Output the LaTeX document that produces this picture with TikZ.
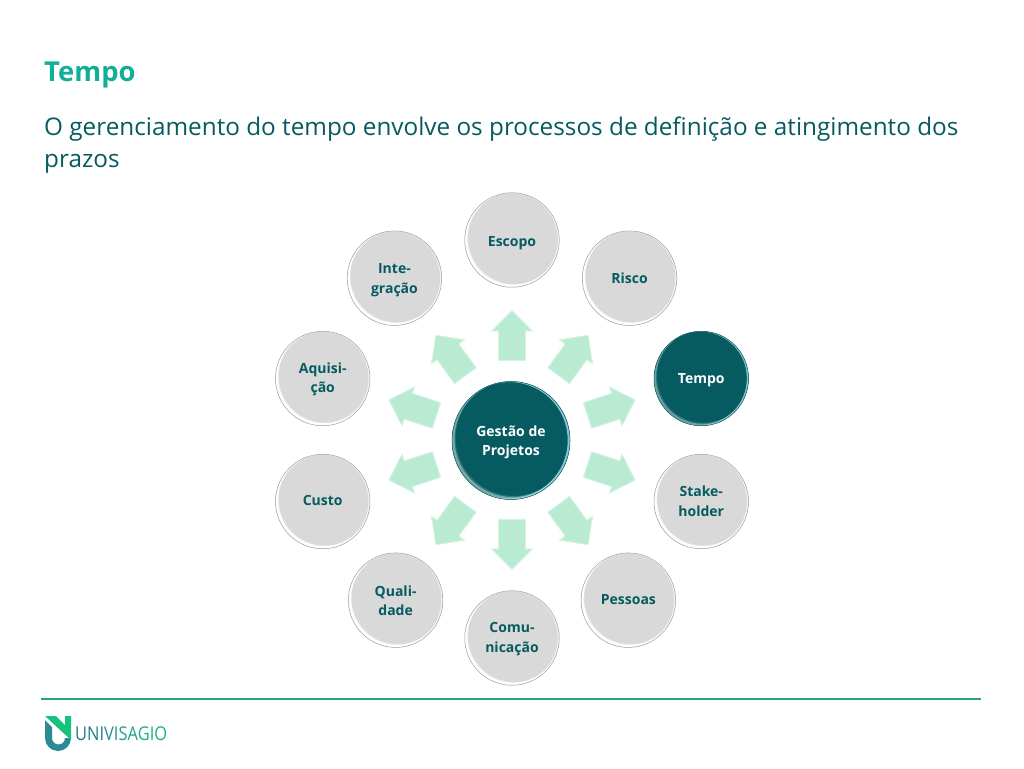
\documentclass[tikz,border=0pt]{standalone}
\usepackage{fontspec}
\setmainfont{Open Sans}
\usetikzlibrary{shapes.arrows,calc}
\definecolor{dark}{HTML}{055B60}
\definecolor{titlec}{HTML}{12AE98}
\definecolor{arrowc}{HTML}{B9EBD2}
\definecolor{arrowe}{HTML}{D6F3E4}
\definecolor{greyc}{HTML}{D9D9D9}
\definecolor{rulec}{HTML}{2E9E86}
\definecolor{logog}{HTML}{16C27E}
\definecolor{logot}{HTML}{2B8A96}
\newcommand\LL[2]{\raisebox{-#1pt}[\height][\depth]{#2}}
\tikzset{
  x=1pt,y=1pt,
  glassgrey/.style={circle,minimum size=94.5pt,inner sep=0pt,fill=greyc,draw=black!38,line width=.5pt,
    text=dark,align=center,font=\bfseries\fontsize{14}{19.5}\selectfont,
    path picture={
      \fill[white,opacity=.45,even odd rule] (path picture bounding box.center) circle (47.5pt)
        ($(path picture bounding box.center)+(2.4pt,2.4pt)$) circle (46.5pt);
      \fill[white,even odd rule] (path picture bounding box.center) circle (47.5pt)
        ($(path picture bounding box.center)+(1.3pt,1.3pt)$) circle (46pt);
      \fill[white,opacity=.7,even odd rule] (path picture bounding box.center) circle (47.5pt)
        ($(path picture bounding box.center)+(-.8pt,.3pt)$) circle (46.6pt);
    }},
  glassdark/.style={glassgrey,fill=dark,draw=dark,text=white,
    path picture={
      \fill[white!25!dark,opacity=.6,even odd rule] (path picture bounding box.center) circle (47.5pt)
        ($(path picture bounding box.center)+(2.2pt,2.2pt)$) circle (46.5pt);
      \fill[white!45!dark,opacity=.9,even odd rule] (path picture bounding box.center) circle (47.5pt)
        ($(path picture bounding box.center)+(1.2pt,1.2pt)$) circle (46.5pt);
      \fill[cyan!30!white,opacity=.75,even odd rule] (path picture bounding box.center) circle (47.5pt)
        ($(path picture bounding box.center)+(-1.2pt,.2pt)$) circle (46.8pt);
    }},
  glasscentre/.style={glassdark,minimum size=118pt,font=\bfseries\fontsize{14}{19.5}\selectfont,
    path picture={
      \fill[white!25!dark,opacity=.6,even odd rule] (path picture bounding box.center) circle (59pt)
        ($(path picture bounding box.center)+(2.6pt,2.6pt)$) circle (58pt);
      \fill[white!50!dark,opacity=.9,even odd rule] (path picture bounding box.center) circle (59pt)
        ($(path picture bounding box.center)+(1.5pt,1.5pt)$) circle (58pt);
      \fill[cyan!30!white,opacity=.75,even odd rule] (path picture bounding box.center) circle (59pt)
        ($(path picture bounding box.center)+(-1.5pt,.2pt)$) circle (58.2pt);
    }},
  blockarrow/.style={shape=single arrow,single arrow head extend=7pt,single arrow tip angle=90,
    minimum width=40pt,minimum height=50pt,inner xsep=0pt,inner ysep=13pt,anchor=tail,
    fill=arrowc,draw=arrowe,line width=.9pt},
  titletext/.style={anchor=base west,inner sep=0pt,text=titlec,font=\bfseries\fontsize{27.4}{30}\selectfont},
  subtext/.style={anchor=base west,inner sep=0pt,text=dark,font=\fontsize{24.3}{30}\selectfont},
  logotext/.style={anchor=base west,inner sep=0pt,font=\fontsize{19}{20}\selectfont},
}
\begin{document}
\begin{tikzpicture}
\useasboundingbox (0,0) rectangle (1024,768);
\fill[white] (0,0) rectangle (1024,768);
\node[titletext] (title) at (44,686) {Tempo};
\node[subtext] (sub1) at (44,632) {O gerenciamento do tempo envolve os processos de definição e atingimento dos};
\node[subtext] (sub2) at (44,600.5) {prazos};
\coordinate (o) at (512,328);
\node[glasscentre] (centre) at (511,327.5) {\LL{2}{Gestão de}\\\LL{2}{Projetos}};
\node[glassgrey] (n1) at ($(o)+(90:200)$) {\LL{3}{Escopo}};
\node[glassgrey] (n2) at ($(o)+(54:200)$) {Risco};
\node[glassdark] (n3) at ($(o)+(18:199)$) {\LL{2}{Tempo}};
\node[glassgrey] (n4) at ($(o)+(-18:199)$) {Stake-\\holder};
\node[glassgrey] (n5) at ($(o)+(-54:198)$) {\LL{-1}{Pessoas}};
\node[glassgrey] (n6) at ($(o)+(-90:198)$) {\LL{1}{Comu-}\\\LL{1}{nicação}};
\node[glassgrey] (n7) at ($(o)+(-126:198)$) {\LL{.5}{Quali-}\\\LL{.5}{dade}};
\node[glassgrey] (n8) at ($(o)+(-162:199)$) {\LL{-1}{Custo}};
\node[glassgrey] (n9) at ($(o)+(162:199)$) {\LL{1}{Aquisi-}\\\LL{1}{ção}};
\node[glassgrey] (n10) at ($(o)+(126:200)$) {\LL{2}{Inte-}\\\LL{2}{gração}};
\foreach \a/\m in {90/a1,54/a2,18/a3,-18/a4,-54/a5,-90/a6,-126/a7,-162/a8,162/a9,126/a10}
  \node[blockarrow,rotate=\a] (\m) at ($(o)+(\a:79)$) {};
\coordinate (ruleL) at (41,69);
\coordinate (ruleR) at (981,69);
\draw[rulec,line width=1.3pt] (ruleL) -- (ruleR);
% logo
\fill[logot] (45,48) -- (52,41) -- (52,30) arc (180:360:6.5) -- (65,30) -- (71,30) arc (0:-180:13) -- cycle;
\fill[logog] (45,52) -- (56,52) -- (65,43) -- (65,52) -- (71,52) -- (71,28) -- cycle;
\node[logotext] (logo) at (75,28) {\scalebox{.865}[1]{\color{logot!70!dark}UNI\color{logot}VI\color{logot!60!logog}SA\color{logot!30!logog}GIO}};
\end{tikzpicture}
\end{document}
